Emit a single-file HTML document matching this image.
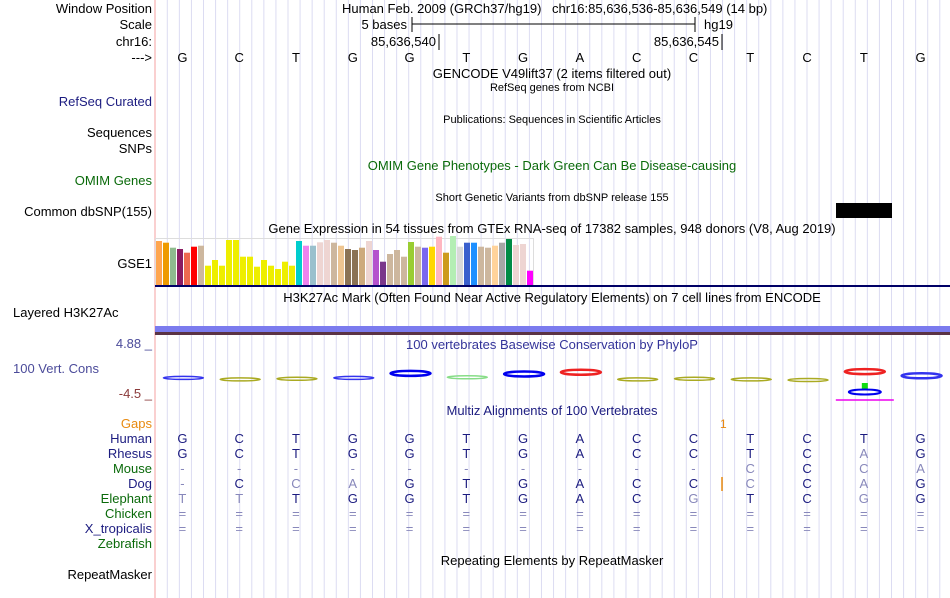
<!DOCTYPE html>
<html><head><meta charset="utf-8">
<style>
html,body{margin:0;padding:0;background:#fff;}
svg{display:block;font-family:"Liberation Sans",sans-serif;}
</style></head>
<body>
<svg id="main" width="950" height="598" xmlns="http://www.w3.org/2000/svg">
<g id="grid"></g>
<line x1="155" y1="0" x2="155" y2="598" stroke="#f4a0a0" stroke-width="1"/>
<g font-size="13" text-anchor="end" fill="#000">
<text x="152" y="13">Window Position</text>
<text x="152" y="29">Scale</text>
<text x="152" y="46">chr16:</text>
<text x="152" y="62">---&gt;</text>
<text x="152" y="106" fill="#1c1c80">RefSeq Curated</text>
<text x="152" y="137">Sequences</text>
<text x="152" y="153">SNPs</text>
<text x="152" y="185" fill="#0a6a0a">OMIM Genes</text>
<text x="152" y="216">Common dbSNP(155)</text>
<text x="152" y="268">GSE1</text>
<text x="152" y="348" fill="#4b4b9a">4.88 _</text>
<text x="152" y="398" fill="#8b3a3a">-4.5 _</text>
<text x="152" y="428" fill="#e88a10">Gaps</text>
<text x="152" y="443" fill="#1c1c80">Human</text>
<text x="152" y="458" fill="#1c1c80">Rhesus</text>
<text x="152" y="473" fill="#0a6a0a">Mouse</text>
<text x="152" y="488" fill="#1c1c80">Dog</text>
<text x="152" y="503" fill="#0a6a0a">Elephant</text>
<text x="152" y="518" fill="#0a6a0a">Chicken</text>
<text x="152" y="533" fill="#1c1c80">X_tropicalis</text>
<text x="152" y="548" fill="#0a6a0a">Zebrafish</text>
<text x="152" y="579">RepeatMasker</text>
</g>
<text x="13" y="317" font-size="13">Layered H3K27Ac</text>
<text x="13" y="373" font-size="13" fill="#4b4b9a">100 Vert. Cons</text>

<g font-size="13" fill="#000">
<text x="342" y="13">Human Feb. 2009 (GRCh37/hg19)</text>
<text x="552" y="13">chr16:85,636,536-85,636,549 (14 bp)</text>
<text x="407" y="29" text-anchor="end">5 bases</text>
<line x1="412" y1="24" x2="695" y2="24" stroke="#000"/>
<line x1="412" y1="17" x2="412" y2="32" stroke="#000"/>
<line x1="695" y1="17" x2="695" y2="32" stroke="#000"/>
<text x="704" y="29">hg19</text>
<text x="436" y="46" text-anchor="end">85,636,540</text>
<line x1="439" y1="34" x2="439" y2="50" stroke="#000"/>
<text x="719" y="46" text-anchor="end">85,636,545</text>
<line x1="722" y1="34" x2="722" y2="50" stroke="#000"/>
<text x="552" y="78" text-anchor="middle">GENCODE V49lift37 (2 items filtered out)</text>
<text x="552" y="91" text-anchor="middle" font-size="11">RefSeq genes from NCBI</text>
<text x="552" y="123" text-anchor="middle" font-size="11">Publications: Sequences in Scientific Articles</text>
<text x="552" y="170" text-anchor="middle" fill="#0a6a0a">OMIM Gene Phenotypes - Dark Green Can Be Disease-causing</text>
<text x="552" y="201" text-anchor="middle" font-size="11">Short Genetic Variants from dbSNP release 155</text>
<text x="552" y="233" text-anchor="middle">Gene Expression in 54 tissues from GTEx RNA-seq of 17382 samples, 948 donors (V8, Aug 2019)</text>
<text x="552" y="302" text-anchor="middle">H3K27Ac Mark (Often Found Near Active Regulatory Elements) on 7 cell lines from ENCODE</text>
<text x="552" y="349" text-anchor="middle" fill="#333399">100 vertebrates Basewise Conservation by PhyloP</text>
<text x="552" y="415" text-anchor="middle" fill="#1c1c80">Multiz Alignments of 100 Vertebrates</text>
<text x="552" y="565" text-anchor="middle">Repeating Elements by RepeatMasker</text>
</g>
<rect x="836" y="203" width="56" height="15" fill="#000"/>
<rect x="155.5" y="238.5" width="378" height="47" fill="none" stroke="#ddd"/>
<g id="gtex"></g>
<rect x="155" y="285" width="795" height="2" fill="#000066"/>
<rect x="155" y="326" width="795" height="6" fill="#7b7bee"/>
<rect x="155" y="332" width="795" height="3" fill="#5a3344"/>
<g id="bases" font-size="13" text-anchor="middle"></g>
<g id="logos"></g>
<text x="720" y="428" font-size="12" fill="#e88a10">1</text>
<line x1="722" y1="477" x2="722" y2="491" stroke="#e88a10" stroke-width="1.5"/>
<g id="multiz" font-size="13" text-anchor="middle"></g>
</svg>
<script>
const refBases = ["G","C","T","G","G","T","G","A","C","C","T","C","T","G"];
const rhesus   = ["G","C","T","G","G","T","G","A","C","C","T","C","a","G"];
const mouse    = ["-","-","-","-","-","-","-","-","-","-","c","C","c","a"];
const dog      = ["~","C","c","a","G","T","G","A","C","C","c","C","a","G"];
const elephant = ["t","t","T","G","G","T","G","A","C","g","T","C","g","G"];
const chicken  = ["=","=","=","=","=","=","=","=","=","=","=","=","=","="];
const xtrop    = ["=","=","=","=","=","=","=","=","=","=","=","=","=","="];
const gtexTissues = ["Adipose-Subcutaneous","Adipose-Visceral","Adrenal","Artery-Aorta","Artery-Coronary","Artery-Tibial","Bladder","Brain-Amygdala","Brain-ACC","Brain-Caudate","Brain-Cerebellar","Brain-Cerebellum","Brain-Cortex","Brain-FrontalCortex","Brain-Hippocampus","Brain-Hypothalamus","Brain-Nucleus","Brain-Putamen","Brain-SpinalCord","Brain-SubstantiaNigra","Breast","EBV-Lymphocytes","Fibroblasts","Cervix-Ecto","Cervix-Endo","Colon-Sigmoid","Colon-Transverse","Esophagus-GEJ","Esophagus-Mucosa","Esophagus-Muscularis","FallopianTube","Heart-AA","Heart-LV","Kidney-Cortex","Kidney-Medulla","Liver","Lung","MinorSalivary","Muscle","Nerve","Ovary","Pancreas","Pituitary","Prostate","Skin-NotSun","Skin-Sun","SmallIntestine","Spleen","Stomach","Testis","Thyroid","Uterus","Vagina","WholeBlood"];
const gtexValues = [44,42.3,37.3,36,32.3,38.3,39.3,19.3,25,19.3,45,45,28.3,28.3,18.3,25,19.3,16,23.3,19.3,44,39.3,39.3,42.7,45,42.3,39.3,36,35,37.3,44,35,23.3,31,35,28.3,43,38.3,37.3,38.3,48.3,32.3,49,38.3,42.3,42.3,38.3,37.3,39.3,42.3,46,40,41,14.3];
const gtexColors = ["#FFA54F","#EE9A00","#8FBC8F","#8B1C62","#EE6A50","#FF0000","#CDB79E","#EEEE00","#EEEE00","#EEEE00","#EEEE00","#EEEE00","#EEEE00","#EEEE00","#EEEE00","#EEEE00","#EEEE00","#EEEE00","#EEEE00","#EEEE00","#00CDCD","#EE82EE","#9AC0CD","#EED5D2","#EED5D2","#CDB79E","#EEC591","#8B7355","#8B7355","#CDAA7D","#EED5D2","#B452CD","#7A378B","#CDB79E","#CDB79E","#CDB79E","#9ACD32","#CDB79E","#7A67EE","#FFD700","#FFB6C1","#CD9B1D","#B4EEB4","#D9D9D9","#3A5FCD","#1E90FF","#CDB79E","#CDB79E","#FFD39B","#A6A6A6","#008B45","#EED5D2","#EED5D2","#FF00FF"];
const phylopScores = [-0.3,-0.8,-0.6,-0.3,1.2,-0.1,1.0,1.6,-0.8,-0.6,-0.8,-1.0,1.8,0.4];
const phylopColors = ["#3333ee","#aaaa22","#aaaa22","#3333ee","#0000ee","#88dd88","#0000ee","#ee2222","#aaaa22","#aaaa22","#aaaa22","#aaaa22","#ee2222","#3333ee"];

const NS="http://www.w3.org/2000/svg";
const X0=155, BW=795/14;
function xBase(i){return X0+BW*(i+0.5);}
function yGtex(v){return 285-v;}
function yPhylo(v){return 377-v*3;}
function mk(tag,attrs,parent){const e=document.createElementNS(NS,tag);for(const k in attrs)e.setAttribute(k,attrs[k]);parent.appendChild(e);return e;}

const grid=document.getElementById('grid');
for(let x=167.3;x<950;x+=12.07){
  const l=mk('line',{x1:x,y1:0,x2:x,y2:598,stroke:'#dcdcf2','stroke-width':1},grid);
  
  
}
const bases=document.getElementById('bases');
refBases.forEach((b,i)=>{
  const t=mk('text',{x:xBase(i)-1,y:62},bases);t.textContent=b;
  
  
});
const gtex=document.getElementById('gtex');
gtexValues.forEach((v,i)=>{
  const r=mk('rect',{x:156+i*7,y:yGtex(v),width:6,height:285-yGtex(v),fill:gtexColors[i]},gtex);
  
  
});
const logos=document.getElementById('logos');
phylopScores.forEach((s,i)=>{
  const cx=xBase(i), y=yPhylo(s);
  const e=mk('ellipse',{cx:cx,cy:y,rx:20,ry:s>0?2.5:1.5,fill:'none',stroke:phylopColors[i],'stroke-width':s>0?2.5:1.5},logos);
  
  
});
mk('rect',{x:xBase(12)-3,y:383,width:6,height:6,fill:'#11dd11'},logos);
mk('ellipse',{cx:xBase(12),cy:392,rx:16,ry:2.5,fill:'none',stroke:'#0000ee','stroke-width':2},logos);
mk('line',{x1:xBase(12)-29,y1:400,x2:xBase(12)+29,y2:400,stroke:'#ee00ee','stroke-width':1.5},logos);
const multiz=document.getElementById('multiz');
const rows=[[refBases,443],[rhesus,458],[mouse,473],[dog,488],[elephant,503],[chicken,518],[xtrop,533]];
rows.forEach(([arr,y])=>{
  arr.forEach((b,i)=>{
    let ch=b, col='#1c1c80';
    if(b==='-'||b==='='||b==='~'){col='#8888bb';ch=(b==='~')?'-':b;}
    else if(b===b.toLowerCase()){col='#8888bb';ch=b.toUpperCase();}
    const t=mk('text',{x:xBase(i)-1,y:y,fill:col},multiz);t.textContent=ch;
    
    
  });
});
</script>
</body></html>
